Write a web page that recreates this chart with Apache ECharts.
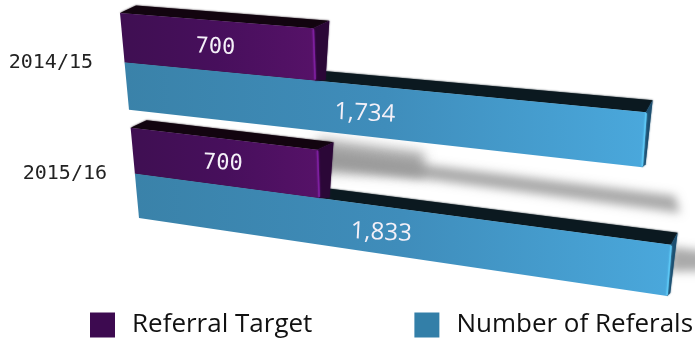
<!DOCTYPE html>
<html><head><meta charset="utf-8">
<style>html,body{margin:0;padding:0;background:#fff}#c{width:695px;height:341px}</style>
<script src="https://cdn.jsdelivr.net/npm/echarts@6/dist/echarts.min.js"></script>
</head><body><div id="c"></div>
<script>
const categories = ['2014/15', '2015/16'];
const referralTarget = [700, 700];
const numberOfReferrals = [1734, 1833];
const seriesNames = ['Referral Target', 'Number of Referals'];

const axisMax = 1833;
const barSpanFraction = 0.84;
// Perspective plane: where the plot's corners land on screen (TL, TR, BR, BL)
const quad = [[120, 13], [686, 58], [667, 296], [139, 218]];

function squareToQuad(q) {
  const [[x0, y0], [x1, y1], [x2, y2], [x3, y3]] = q;
  const dx1 = x1 - x2, dx2 = x3 - x2, sx = x0 - x1 + x2 - x3;
  const dy1 = y1 - y2, dy2 = y3 - y2, sy = y0 - y1 + y2 - y3;
  const den = dx1 * dy2 - dx2 * dy1;
  const g = (sx * dy2 - dx2 * sy) / den, h = (dx1 * sy - sx * dy1) / den;
  const a = x1 - x0 + g * x1, b = x3 - x0 + h * x3, c = x0;
  const d = y1 - y0 + g * y1, e = y3 - y0 + h * y3, f = y0;
  return (u, v) => {
    const w = g * u + h * v + 1;
    return [(a * u + b * v + c) / w, (d * u + e * v + f) / w];
  };
}
const project = squareToQuad(quad);

// Plane helper built from the library's scales
function plane(api) {
  const band = api.size([0, 1])[1];
  const span = band * barSpanFraction;
  const left = api.coord([0, 0])[0], right = api.coord([axisMax, 0])[0];
  const top = api.coord([0, 0])[1] - span / 2;
  const bottom = api.coord([0, categories.length - 1])[1] + span / 2;
  return {
    span,
    pt: (val, y) => project((api.coord([val, 0])[0] - left) / (right - left), (y - top) / (bottom - top)),
    ptV: (val, v) => project((api.coord([val, 0])[0] - left) / (right - left), v)
  };
}
function depth(x) {
  const k = Math.min(1, Math.max(0, (x - 320) / 330));
  return [16 - 9.5 * k, -7.5 - 4.5 * k];
}
function poly(points, style, z2) {
  return { type: 'polygon', shape: { points }, style, z2: z2 || 0, silent: true };
}
function grad(stops) {
  return new echarts.graphic.LinearGradient(0, 0, 1, 0, stops.map((c, i) => ({ offset: i / (stops.length - 1), color: c })));
}

function barRenderer(slot, look) {
  return function (params, api) {
    const idx = api.value(1), val = api.value(0);
    const p = plane(api);
    const cy = api.coord([0, idx])[1];
    const y0 = cy - p.span / 2 + slot * p.span / 2, y1 = y0 + p.span / 2;
    const TL = p.pt(0, y0), TR = p.pt(val, y0), BR = p.pt(val, y1), BL = p.pt(0, y1);
    const d = depth(TR[0]);
    const back = pt => [pt[0] + depth(pt[0])[0], pt[1] + depth(pt[0])[1]];
    const botOff = [d[0] * look.bottomDepth[0], d[1] * look.bottomDepth[1]];
    const mid = p.pt(val / 2, (y0 + y1) / 2);
    const soft = { shadowColor: look.top, shadowBlur: 2 };
    const children = [
      poly([TL, TR, back(TR), back(TL)], Object.assign({ fill: look.top }, soft)),
      poly([TR, back(TR), [BR[0] + botOff[0], BR[1] + botOff[1]], BR], { fill: look.side, shadowColor: look.side, shadowBlur: 1.5 }),
      poly([TL, TR, BR, BL], { fill: grad(look.front) }),
      { type: 'line', shape: { x1: TR[0], y1: TR[1] + 1, x2: BR[0], y2: BR[1] - 1 }, style: { stroke: look.edge, lineWidth: 1.6, shadowColor: look.edge, shadowBlur: 2 }, silent: true },
      { type: 'text', x: mid[0], y: mid[1] + look.textDy, rotation: look.rot, silent: true,
        style: { text: look.format(val), fill: '#f4f0f8', font: look.font, align: 'center', verticalAlign: 'middle',
                 shadowColor: look.textShadow, shadowBlur: 4, shadowOffsetX: 1, shadowOffsetY: 1 } }
    ];
    return { type: 'group', children };
  };
}

function softShadow(points, blur, color) {
  const far = 3000;
  return poly(points.map(q => [q[0] - far, q[1]]), { fill: color, shadowColor: color, shadowBlur: blur, shadowOffsetX: far });
}
function renderShadow(params, api) {
  const val = api.value(0), target = api.value(2);
  const p = plane(api);
  const gray = 'rgba(150,150,150,0.9)';
  return { type: 'group', children: [
    softShadow([p.ptV(target, 0.49), p.ptV(target * 1.52, 0.5), p.ptV(target * 1.52, 0.61), p.ptV(target, 0.65)], 12, gray),
    softShadow([p.ptV(target, 0.55), p.ptV(val, 0.56), p.ptV(val * 1.01, 0.63), p.ptV(target, 0.615)], 10, gray),
    softShadow([p.ptV(val, 0.78), p.ptV(val * 1.07, 0.78), p.ptV(val * 1.07, 0.86), p.ptV(val, 0.89)], 10, gray)
  ] };
}

const purpleLook = {
  top: '#12040f', side: '#2b0737', edge: '#7d1f9e', bottomDepth: [0.65, 0.05], rot: -0.04, textDy: 1.5,
  front: ['#3f0f52', '#470f5c', '#561268'],
  font: '22px "DejaVu Sans Mono"', textShadow: 'rgba(10,0,15,0.9)', format: v => String(v)
};
const blueLook = {
  top: '#0b1920', side: '#1d4f70', edge: '#5cc6f4', bottomDepth: [0.5, 0.25], rot: -0.05, textDy: 2.5,
  front: ['#3a82a9', '#3f8dbb', '#4aa8dc'],
  font: '24px "Open Sans"', textShadow: 'rgba(0,30,50,0.8)', format: v => v.toLocaleString('en-US')
};

const chart = echarts.init(document.getElementById('c'), null, { renderer: 'canvas' });
chart.setOption({
  animation: false,
  backgroundColor: '#fff',
  grid: { left: 115, top: 7.5, width: 500, height: 222 },
  xAxis: { type: 'value', min: 0, max: axisMax, show: false },
  yAxis: {
    type: 'category', data: categories, inverse: true,
    axisLine: { show: false }, axisTick: { show: false }, splitLine: { show: false },
    axisLabel: {
      margin: 8,
      formatter: (v, i) => i === 0 ? '{a|' + v + '}' : '{b|' + v + '}',
      rich: {
        a: { fontFamily: 'DejaVu Sans Mono', fontSize: 20, color: '#222', padding: [0, 14, 0, 0] },
        b: { fontFamily: 'DejaVu Sans Mono', fontSize: 20, color: '#222' }
      }
    }
  },
  legend: {
    left: 90, top: 312, padding: 0, itemWidth: 25, itemHeight: 25, itemGap: 102, icon: 'rect',
    data: seriesNames,
    textStyle: { fontFamily: 'Open Sans', fontSize: 26, color: '#111', padding: [0, 0, 0, 12] }
  },
  series: [
    { type: 'custom', name: 'shadow', z: 1, silent: true, renderItem: renderShadow, clip: false,
      encode: { x: 0, y: 1 }, data: [[numberOfReferrals[1], 1, referralTarget[1]]] },
    { type: 'custom', name: seriesNames[1], z: 2, renderItem: barRenderer(1, blueLook), clip: false,
      itemStyle: { color: '#337fa8' }, encode: { x: 0, y: 1 },
      data: numberOfReferrals.map((v, i) => [v, i]) },
    { type: 'custom', name: seriesNames[0], z: 3, renderItem: barRenderer(0, purpleLook), clip: false,
      itemStyle: { color: '#3d0a50' }, encode: { x: 0, y: 1 },
      data: referralTarget.map((v, i) => [v, i]) }
  ]
});
</script></body></html>
